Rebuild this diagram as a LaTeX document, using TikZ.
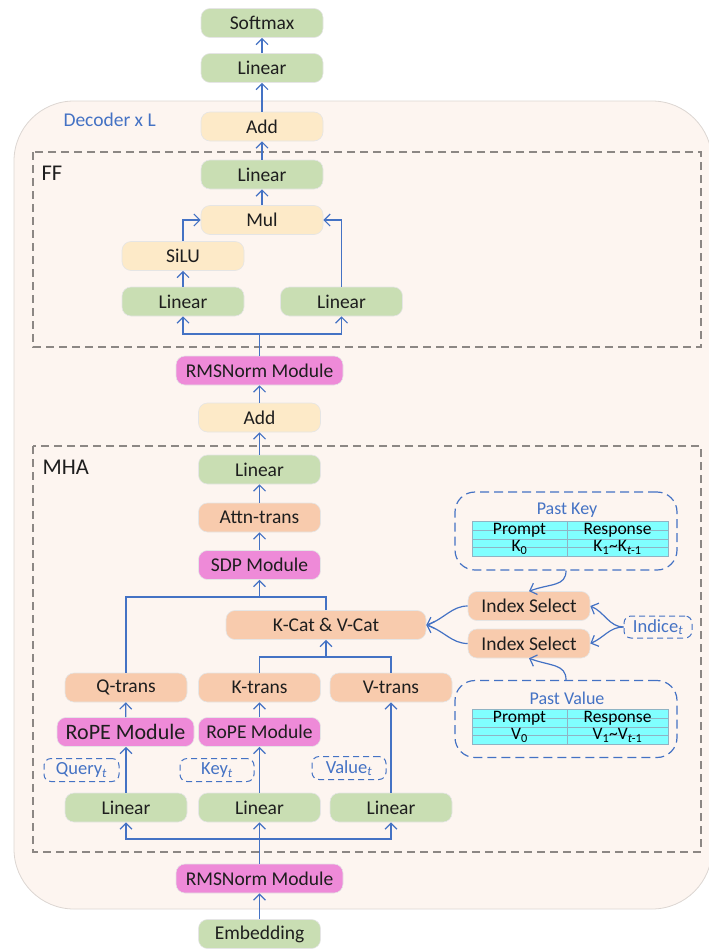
\documentclass[tikz,border=0pt]{standalone}
\usepackage{fontspec}
\setmainfont{Carlito}
\usetikzlibrary{arrows.meta}

\definecolor{gfill}{HTML}{C9DEB3}
\definecolor{yfill}{HTML}{FDEAC8}
\definecolor{pfill}{HTML}{EE8AD8}
\definecolor{ofill}{HTML}{F8CBAD}
\definecolor{decbg}{HTML}{FDF5F0}
\definecolor{decline}{HTML}{DCD6D2}
\definecolor{arrblue}{HTML}{4472C4}
\definecolor{tabcyan}{HTML}{80FFFF}
\definecolor{tabline}{HTML}{8FB4C4}
\definecolor{txt}{HTML}{1E1E1E}
\definecolor{dashgray}{HTML}{8C8784}

\newcommand{\tsub}{\textsubscript{\itshape t}}

\begin{document}
\begin{tikzpicture}[x=1pt, y=-1pt,
	every node/.style={font=\fontsize{19.5}{22}\selectfont, text=txt},
	box/.style={rounded corners=9pt, minimum width=122pt, minimum height=29pt, inner sep=0pt, draw=black!10, line width=0.6pt},
	gbox/.style={box, fill=gfill},
	ybox/.style={box, fill=yfill},
	pbox/.style={box, fill=pfill},
	obox/.style={box, fill=ofill},
	tag/.style={draw=arrblue, line width=1pt, dash pattern=on 6pt off 4pt, rounded corners=7pt, text=arrblue, font=\fontsize{18.5}{20}\selectfont, minimum height=23pt, inner sep=0pt},
	memo/.style={draw=arrblue, line width=1.2pt, dash pattern=on 9pt off 5pt, rounded corners=20pt, minimum width=222pt},
	cell/.style={font=\fontsize{17.5}{19}\selectfont, text=black, inner sep=0pt},
	area/.style={draw=dashgray, line width=1.2pt, dash pattern=on 8pt off 5pt},
	wire/.style={draw=arrblue, line width=1.2pt},
	arr/.style={wire, -{Straight Barb[length=6pt,width=12pt]}}]
	\useasboundingbox (0,0) rectangle (709,950);
	\draw[fill=decbg, draw=decline, line width=0.8pt, rounded corners=60pt] (14,101) rectangle (712,909);
	\draw[area] (33,152) rectangle (701,347);
	\draw[area] (33,446) rectangle (701,852);
	\node[text=arrblue, anchor=west] (declabel) at (60,120) {Decoder x L};
	\node[font=\fontsize{22.5}{25}\selectfont, anchor=west] (fflabel) at (38,173) {FF};
	\node[font=\fontsize{22.5}{25}\selectfont, anchor=west] (mhalabel) at (39,467) {MHA};

	\node[gbox] (softmax) at (262,23) {Softmax};
	\node[gbox] (toplin) at (262,68) {Linear};
	\node[ybox] (addtop) at (262,126.5) {Add};
	\node[gbox] (fflin) at (262,174.5) {Linear};
	\node[ybox] (mul) at (262,220) {Mul};
	\node[ybox] (silu) at (183,256) {SiLU};
	\node[gbox] (ffla) at (183,301.5) {Linear};
	\node[gbox] (fflb) at (341.5,301.5) {Linear};
	\node[pbox, minimum width=167pt] (rmstop) at (259.5,370.5) {RMSNorm Module};
	\node[ybox] (addmid) at (259.5,417.5) {Add};

	\node[gbox] (mhalin) at (259.5,469.5) {Linear};
	\node[obox] (attn) at (259.5,517.5) {Attn-trans};
	\node[pbox] (sdp) at (259.5,565) {SDP Module};
	\node[obox, minimum width=200pt] (kcat) at (326,625) {K-Cat \& V-Cat};
	\node[obox] (qtrans) at (126,687.5) {Q-trans};
	\node[obox] (ktrans) at (259.5,687.5) {K-trans};
	\node[obox] (vtrans) at (391,687.5) {V-trans};
	\node[pbox, minimum width=137pt, font=\fontsize{22}{24}\selectfont] (qrope) at (125.5,732) {RoPE Module};
	\node[pbox] (krope) at (259.5,732) {RoPE Module};
	\node[tag, minimum width=75pt] (query) at (81.5,770) {Query\tsub};
	\node[tag, minimum width=74pt] (key) at (217,770) {Key\tsub};
	\node[tag, minimum width=74pt] (value) at (349,768) {Value\tsub};
	\node[gbox] (qlin) at (126,807.5) {Linear};
	\node[gbox] (klin) at (259.5,807.5) {Linear};
	\node[gbox] (vlin) at (391,807.5) {Linear};
	\node[pbox, minimum width=167pt] (rmsbot) at (259.5,878.5) {RMSNorm Module};
	\node[gbox] (embed) at (259.5,934) {Embedding};

	\node[obox] (isel1) at (529,606) {Index Select};
	\node[obox] (isel2) at (529,643.5) {Index Select};
	\node[tag, minimum width=68pt, minimum height=22pt] (indice) at (658,627) {Indice\tsub};
	\node[memo, minimum height=78pt] (pastkey) at (566,531) {};
	\node[memo, minimum height=77pt] (pastval) at (566,719) {};
	\node[text=arrblue, font=\fontsize{18}{20}\selectfont] (pktitle) at (567,510) {Past Key};
	\node[text=arrblue, font=\fontsize{18}{20}\selectfont] (pvtitle) at (567,698) {Past Value};
	\foreach \dy/\lt in {0/K, 188/V} {
		\begin{scope}[shift={(0,\dy)}]
			\fill[tabcyan] (472,521) rectangle (668,556);
			\draw[tabline, line width=0.4pt] (472,530) -- (668,530) (472,547.5) -- (668,547.5);
			\draw[tabline, line width=0.8pt] (472,521) rectangle (668,556) (472,539) -- (668,539) (567,521) -- (567,556);
			\node[cell] (prompt\lt) at (519.5,530) {Prompt};
			\node[cell] (resp\lt) at (617.5,530) {Response};
			\node[cell] (first\lt) at (519.5,547.5) {\lt\textsubscript{0}};
			\node[cell] (rest\lt) at (617.5,547.5) {\lt\textsubscript{1}\textasciitilde\lt\textsubscript{\itshape t\upshape-1}};
		\end{scope}
	}

	\draw[arr] (toplin) -- (softmax);
	\draw[arr] (addtop) -- (toplin);
	\draw[arr] (fflin) -- (addtop);
	\draw[arr] (mul) -- (fflin);
	\draw[arr] (silu.north) |- (mul.west);
	\draw[arr] (fflb.north) |- (mul.east);
	\draw[arr] (ffla) -- (silu);
	\coordinate (ffsplit) at (259.5,334);
	\draw[wire] (rmstop.north) -- (ffsplit);
	\draw[arr] (ffsplit) -| (ffla.south);
	\draw[arr] (ffsplit) -| (fflb.south);
	\draw[arr] (addmid) -- (rmstop);
	\draw[arr] (mhalin) -- (addmid);
	\draw[arr] (attn) -- (mhalin);
	\draw[arr] (sdp) -- (attn);
	\coordinate (sdpjoin) at (259.5,597);
	\draw[wire] (qtrans.north) |- (sdpjoin);
	\draw[wire] (kcat.north) |- (sdpjoin);
	\draw[arr] (sdpjoin) -- (sdp.south);
	\coordinate (kvjoin) at (326,657);
	\draw[wire] (ktrans.north) |- (kvjoin);
	\draw[wire] (vtrans.north) |- (kvjoin);
	\draw[arr] (kvjoin) -- (kcat.south);
	\draw[arr] (qrope) -- (qtrans);
	\draw[arr] (krope) -- (ktrans);
	\draw[arr] (qlin.north) -- (qrope.south -| qlin.north);
	\draw[arr] (klin) -- (krope);
	\draw[arr] (vlin) -- (vtrans);
	\coordinate (mhasplit) at (259.5,839);
	\draw[wire] (rmsbot.north) -- (mhasplit);
	\draw[arr] (mhasplit) -- (klin.south);
	\draw[arr] (mhasplit) -| (qlin.south);
	\draw[arr] (mhasplit) -| (vlin.south);
	\draw[arr] (embed) -- (rmsbot);

	\draw[arr] (pastkey.south) .. controls +(0,16) and +(22,-8) .. (isel1.north);
	\draw[arr] (pastval.north) .. controls +(0,-16) and +(22,8) .. (isel2.south);
	\draw[arr] (indice.west) .. controls +(-14,0) and +(14,6) .. (isel1.east);
	\draw[arr] (indice.west) .. controls +(-14,0) and +(14,-6) .. (isel2.east);
	\draw[arr] (isel1.west) .. controls +(-16,0) and +(18,-6) .. (kcat.east);
	\draw[arr] (isel2.west) .. controls +(-16,0) and +(18,6) .. (kcat.east);
\end{tikzpicture}
\end{document}
